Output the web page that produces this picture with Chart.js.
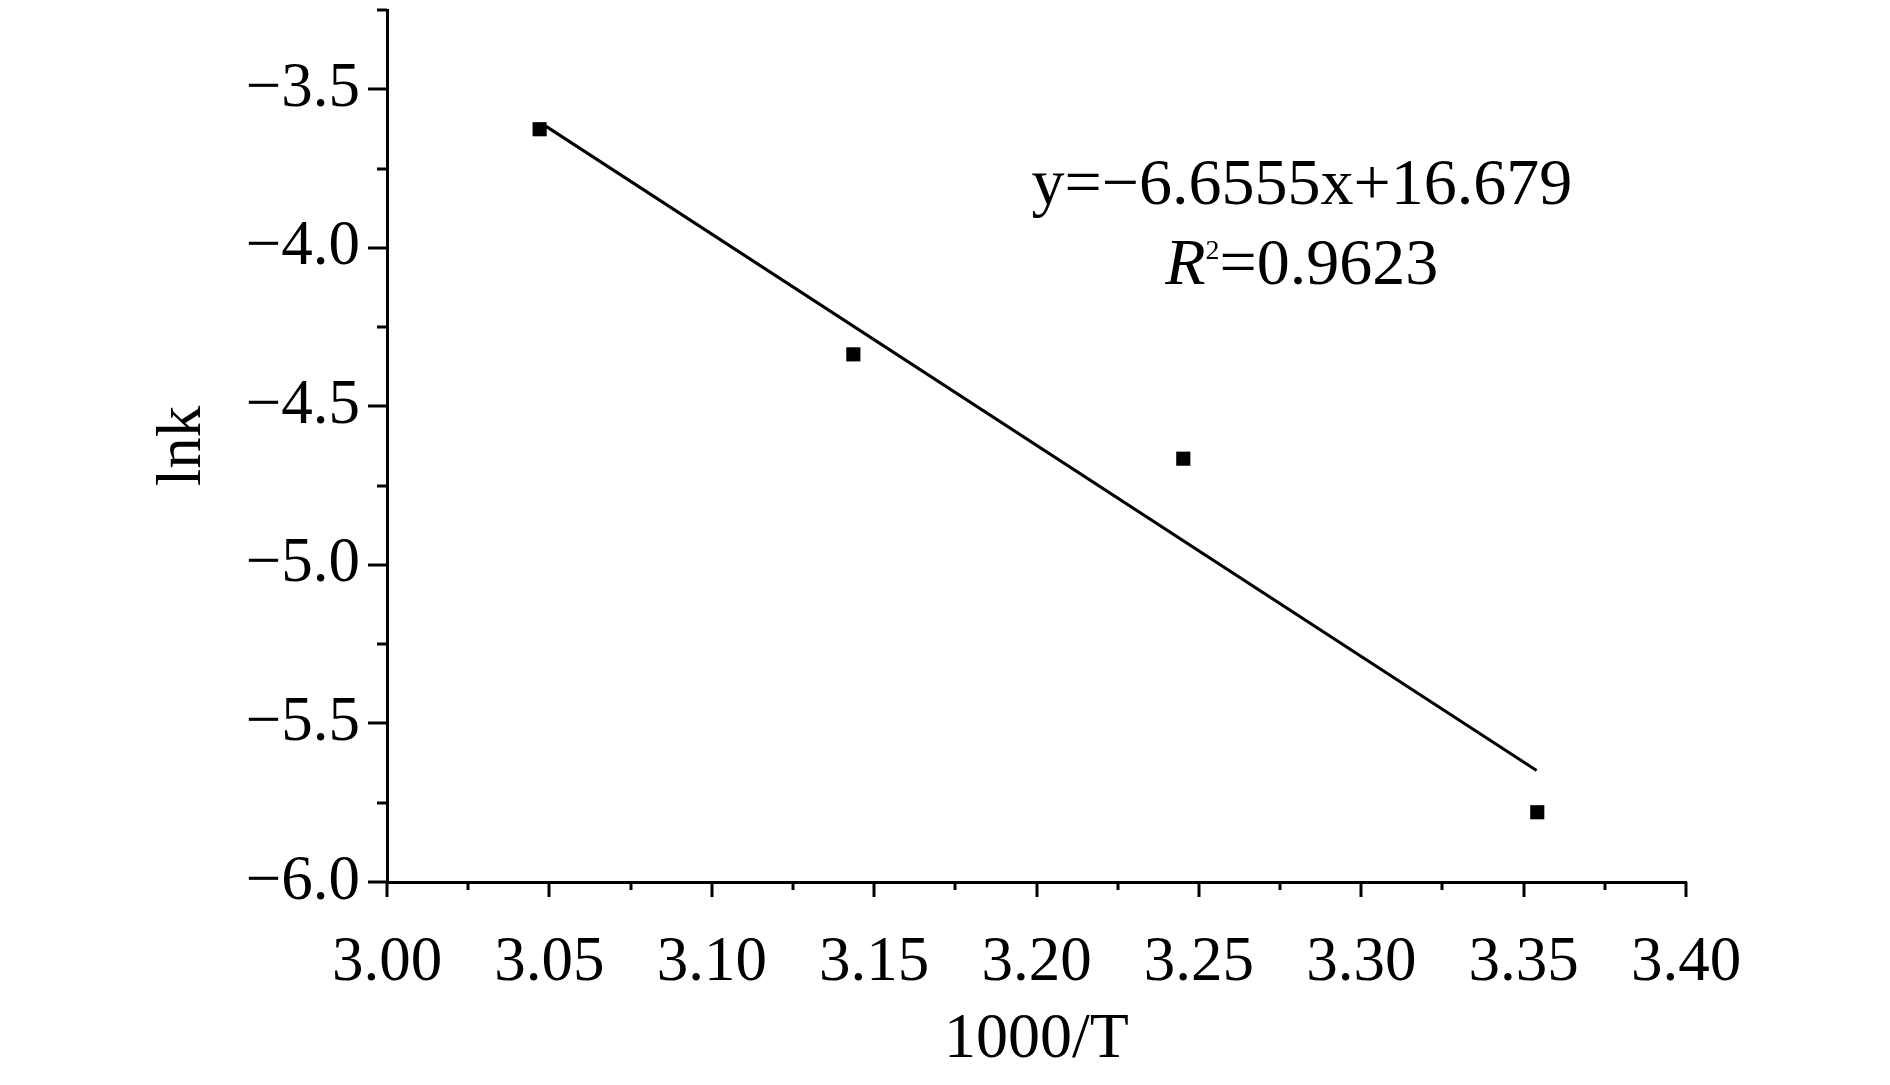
<!DOCTYPE html>
<html>
<head>
<meta charset="utf-8">
<script src="https://cdn.jsdelivr.net/npm/chart.js@4/dist/chart.umd.min.js"></script>
<style>
  html, body { margin: 0; padding: 0; background: #fff; }
  #wrap { width: 1890px; height: 1085px; }
</style>
</head>
<body>
<div id="wrap"><canvas id="arrhenius" width="1890" height="1085"></canvas></div>
<script>
/* Data */
const invT = [3.047, 3.1436, 3.2452, 3.3542];
const lnK = [-3.626, -4.336, -4.665, -5.780];

// fitted line end points (as drawn)
const fitX = [3.049, 3.354];
const fitY = [-3.617, -5.648];

const xTicks = ["3.00", "3.05", "3.10", "3.15", "3.20", "3.25", "3.30", "3.35", "3.40"];
const yTicks = ["−3.5", "−4.0", "−4.5", "−5.0", "−5.5", "−6.0"];

const eqLine = "y=−6.6555x+16.679";
const r2Value = "=0.9623";

const FONT = '"Liberation Serif", "Times New Roman", serif';

/* Tick marks: major/minor of different length, drawn with the scales */
const tickMarks = {
    id: "tickMarks",
    afterDraw(chart) {
        const ctx = chart.ctx;
        const xs = chart.scales.x, ys = chart.scales.y;
        ctx.save();
        ctx.strokeStyle = "#000";
        ctx.lineWidth = 3;
        ctx.lineCap = "butt";
        for (const t of ys.ticks) {
            const py = Math.round(ys.getPixelForValue(t.value));
            const len = t.label ? 19 : 10;
            ctx.beginPath();
            ctx.moveTo(ys.right, py);
            ctx.lineTo(ys.right - len, py);
            ctx.stroke();
        }
        for (const t of xs.ticks) {
            const px = Math.round(xs.getPixelForValue(t.value));
            const len = t.label ? 15 : 8;
            ctx.beginPath();
            ctx.moveTo(px, xs.top);
            ctx.lineTo(px, xs.top + len);
            ctx.stroke();
        }
        ctx.restore();
    }
};

/* Regression equation text */
const equationText = {
    id: "equationText",
    afterDraw(chart) {
        const ctx = chart.ctx;
        const xs = chart.scales.x, ys = chart.scales.y;
        const cx = xs.getPixelForValue(3.2817);
        const b1 = ys.getPixelForValue(-3.862);
        const b2 = ys.getPixelForValue(-4.114);
        ctx.save();
        ctx.fillStyle = "#000";
        ctx.textBaseline = "alphabetic";
        ctx.textAlign = "left";
        ctx.font = "66px " + FONT;
        const w1 = ctx.measureText(eqLine).width;
        ctx.fillText(eqLine, cx - w1 / 2, b1);

        // R² line
        ctx.font = "italic 66px " + FONT;
        const wR = ctx.measureText("R").width;
        ctx.font = "28px " + FONT;
        const wSup = ctx.measureText("2").width;
        ctx.font = "66px " + FONT;
        const wV = ctx.measureText(r2Value).width;
        let x = cx - (wR + wSup + wV) / 2;
        ctx.font = "italic 66px " + FONT;
        ctx.fillText("R", x, b2);
        x += wR;
        ctx.font = "28px " + FONT;
        ctx.fillText("2", x, b2 - 25);
        x += wSup;
        ctx.font = "66px " + FONT;
        ctx.fillText(r2Value, x, b2);
        ctx.restore();
    }
};

const fitPoints = fitX.map((v, i) => ({ x: v, y: fitY[i] }));
const scatterPoints = invT.map((v, i) => ({ x: v, y: lnK[i] }));

new Chart(document.getElementById("arrhenius"), {
    type: "scatter",
    data: {
        datasets: [
            {
                type: "line",
                label: "fit",
                data: fitPoints,
                borderColor: "#000",
                borderWidth: 3,
                pointRadius: 0,
                fill: false,
                tension: 0
            },
            {
                label: "lnk",
                data: scatterPoints,
                pointStyle: "rect",
                pointRadius: 10,
                backgroundColor: "#000",
                borderColor: "#000",
                borderWidth: 0
            }
        ]
    },
    options: {
        responsive: false,
        devicePixelRatio: 1,
        animation: false,
        layout: { padding: { top: 9, right: 204, bottom: 0, left: 0 } },
        plugins: {
            legend: { display: false },
            tooltip: { enabled: false }
        },
        scales: {
            x: {
                type: "linear",
                min: 3.0,
                max: 3.4,
                border: { display: true, color: "#000", width: 3 },
                grid: { drawOnChartArea: false, drawTicks: false },
                ticks: {
                    stepSize: 0.025,
                    autoSkip: false,
                    maxRotation: 0,
                    padding: 44,
                    color: "#000",
                    font: { family: FONT, size: 63 },
                    callback: (v) => {
                        const k = Math.round((v - 3.0) / 0.025);
                        return k % 2 === 0 ? xTicks[k / 2] : "";
                    }
                },
                title: {
                    display: true,
                    text: "1000/T",
                    color: "#000",
                    font: { family: FONT, size: 64 },
                    padding: { top: 0, bottom: 6 }
                },
                afterFit: (s) => { s.height = 203; s.paddingLeft = 0; s.paddingRight = 0; }
            },
            y: {
                type: "linear",
                min: -6.0,
                max: -3.25,
                border: { display: true, color: "#000", width: 3 },
                grid: { drawOnChartArea: false, drawTicks: false },
                ticks: {
                    stepSize: 0.25,
                    autoSkip: false,
                    padding: 27,
                    color: "#000",
                    font: { family: FONT, size: 63 },
                    callback: (v) => {
                        const k = Math.round((-3.5 - v) / 0.25);
                        return (k >= 0 && k % 2 === 0) ? yTicks[k / 2] : "";
                    }
                },
                title: {
                    display: true,
                    text: "lnk",
                    color: "#000",
                    font: { family: FONT, size: 63 },
                    padding: { top: 146, bottom: 0 }
                },
                afterFit: (s) => { s.width = 387; s.paddingTop = 0; s.paddingBottom = 0; }
            }
        }
    },
    plugins: [tickMarks, equationText]
});
</script>
</body>
</html>
